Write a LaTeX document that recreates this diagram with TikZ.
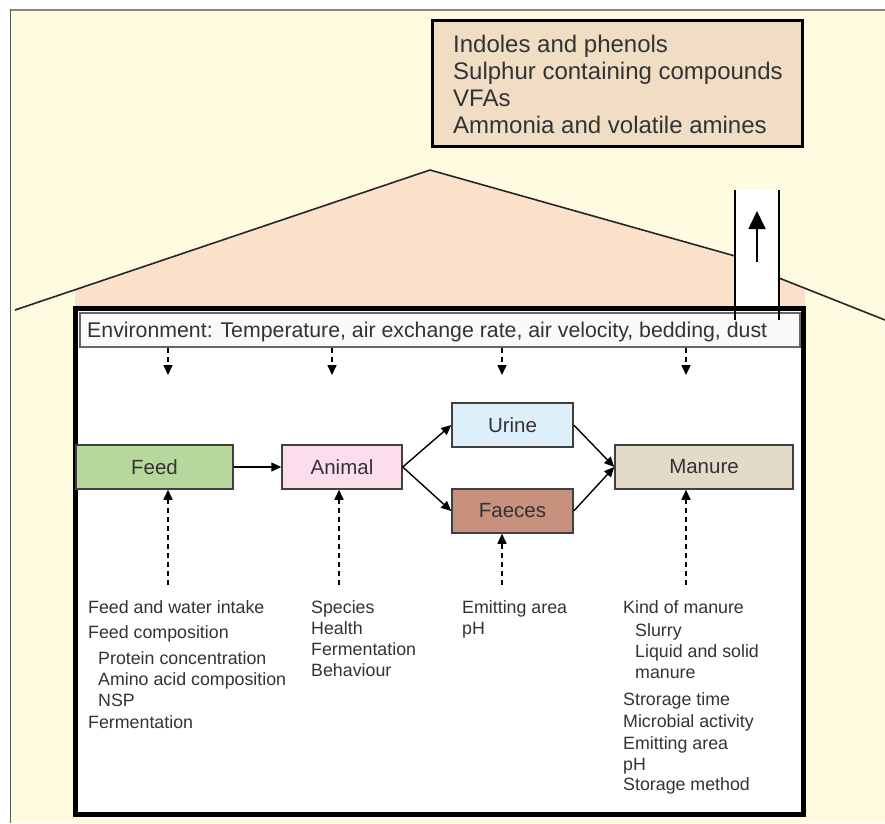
\documentclass[tikz,border=0pt]{standalone}
\usepackage{fontspec}
\setmainfont{Liberation Sans}
\usetikzlibrary{arrows.meta}
\definecolor{cream}{HTML}{FFFBE0}
\definecolor{peach}{HTML}{FCE1CA}
\definecolor{tanbox}{HTML}{F0DDC4}
\definecolor{feedc}{HTML}{B6D89C}
\definecolor{animc}{HTML}{FBDDEB}
\definecolor{urinec}{HTML}{DDEFF9}
\definecolor{faecc}{HTML}{C8917E}
\definecolor{manc}{HTML}{E3DAC7}
\definecolor{txt}{HTML}{333333}
\definecolor{boxline}{HTML}{404040}
\definecolor{frameline}{HTML}{8C8672}
\begin{document}
\begin{tikzpicture}[x=1pt,y=-1pt,
  procbox/.style={draw=boxline, line width=1.5pt, minimum height=44pt, inner sep=0pt,
    font=\fontsize{20.5}{24}\selectfont, text=txt},
  flow/.style={-{Triangle[length=10pt,width=9pt]}, line width=1.4pt},
  dasharr/.style={-{Triangle[length=10pt,width=9pt]}, line width=1.6pt, dash pattern=on 5pt off 4pt},
  lst/.style={anchor=base west, inner sep=0pt, font=\fontsize{17.8}{21}\selectfont, text=txt},
  toptxt/.style={anchor=base west, inner sep=0pt, font=\fontsize{24}{27}\selectfont, text=txt}]
\useasboundingbox (0,0) rectangle (885,823);
\fill[white] (0,0) rectangle (885,823);
\fill[cream] (10,10) rectangle (885,823);
\draw[frameline, line width=2pt] (10,9.5) -- (885,9.5);
\draw[black!65, line width=1.5pt] (10.5,9) -- (10.5,823);
% roof
\fill[peach] (75,308) -- (75,290) -- (430,170) -- (735,256) -- (779,278) -- (805,288.3) -- (805,308) -- cycle;
\draw[black!85, line width=1.6pt] (15,310) -- (430,170) -- (735,256);
\draw[black!85, line width=1.6pt] (779,278) -- (885,320);
% chimney fill
\fill[white] (735,190) rectangle (779,310);
% house
\draw[black, line width=5pt, fill=white] (75,308) rectangle (803,814);
\node[draw=black!60, line width=1.6pt, fill=white!98!black, minimum width=720pt, minimum height=34pt,
  inner sep=0pt, anchor=north west] (env) at (79,312) {};
\node[anchor=base west, inner sep=0pt, font=\fontsize{21.3}{24}\selectfont, text=txt] (envt) at (87,337)
  {Environment: Temperature, air exchange rate, air velocity, bedding, dust};
% chimney lines and arrow
\coordinate (chl) at (735,190);
\coordinate (chr) at (779,190);
\draw[black, line width=1.5pt] (chl) -- ++(0,130);
\draw[black, line width=1.5pt] (chr) -- ++(0,130);
\coordinate (cha) at (757,262);
\coordinate (chb) at (757,211);
\draw[-{Triangle[length=18pt,width=17pt]}, line width=1.8pt] (cha) -- (chb);
% emission box
\node[draw=black, line width=3pt, fill=tanbox, minimum width=370pt, minimum height=126pt,
  inner sep=0pt, anchor=north west] (emis) at (431,19) {};
\node[toptxt] (em1) at (453,52.6) {Indoles and phenols};
\node[toptxt] (em2) at (453,79.4) {Sulphur containing compounds};
\node[toptxt] (em3) at (453,106.2) {VFAs};
\node[toptxt] (em4) at (453,133) {Ammonia and volatile amines};
% environment arrows
\foreach \x [count=\i] in {168,332,502,686} {
  \coordinate (e\i) at (\x,375);
  \draw[dasharr] (env.south -| e\i) -- (e\i);
}
% process boxes
\node[procbox, fill=feedc, minimum width=157pt] (feed) at (154.5,467) {Feed};
\node[procbox, fill=animc, minimum width=120pt] (animal) at (342,467) {Animal};
\node[procbox, fill=urinec, minimum width=121pt] (urine) at (512.5,425) {Urine};
\node[procbox, fill=faecc, minimum width=121pt] (faeces) at (512.5,511) {Faeces};
\node[procbox, fill=manc, minimum width=178pt] (manure) at (704,467) {Manure};
\draw[flow] (feed.east) -- (animal.west);
\draw[flow] (animal.east) -- (urine.west);
\draw[flow] (animal.east) -- (faeces.west);
\draw[flow] (urine.east) -- (manure.west);
\draw[flow] (faeces.east) -- (manure.west);
% factor arrows
\coordinate (ff) at (168,585);
\coordinate (fa) at (339,585);
\coordinate (fc) at (502,585);
\coordinate (fm) at (686,585);
\draw[dasharr] (ff) -- (ff |- feed.south);
\draw[dasharr] (fa) -- (fa |- animal.south);
\draw[dasharr] (fc) -- (fc |- faeces.south);
\draw[dasharr] (fm) -- (fm |- manure.south);
% lists
\node[lst] (l1) at (88,613.4) {Feed and water intake};
\node[lst] (l2) at (88,638.4) {Feed composition};
\node[lst] (l3) at (98,664.4) {Protein concentration};
\node[lst] (l4) at (98,685.4) {Amino acid composition};
\node[lst] (l5) at (98,706.4) {NSP};
\node[lst] (l6) at (88,728.4) {Fermentation};
\node[lst] (a1) at (311,613.4) {Species};
\node[lst] (a2) at (311,634) {Health};
\node[lst] (a3) at (311,655.4) {Fermentation};
\node[lst] (a4) at (311,676.4) {Behaviour};
\node[lst] (c1) at (462,613.4) {Emitting area};
\node[lst] (c2) at (462,634.4) {pH};
\node[lst] (m1) at (623,613.4) {Kind of manure};
\node[lst] (m2) at (635,636.4) {Slurry};
\node[lst] (m3) at (635,657.4) {Liquid and solid};
\node[lst] (m4) at (635,678.4) {manure};
\node[lst] (m5) at (623,705.4) {Strorage time};
\node[lst] (m6) at (623,727.4) {Microbial activity};
\node[lst] (m7) at (623,749.4) {Emitting area};
\node[lst] (m8) at (623,770.4) {pH};
\node[lst] (m9) at (623,790.4) {Storage method};
\end{tikzpicture}
\end{document}
